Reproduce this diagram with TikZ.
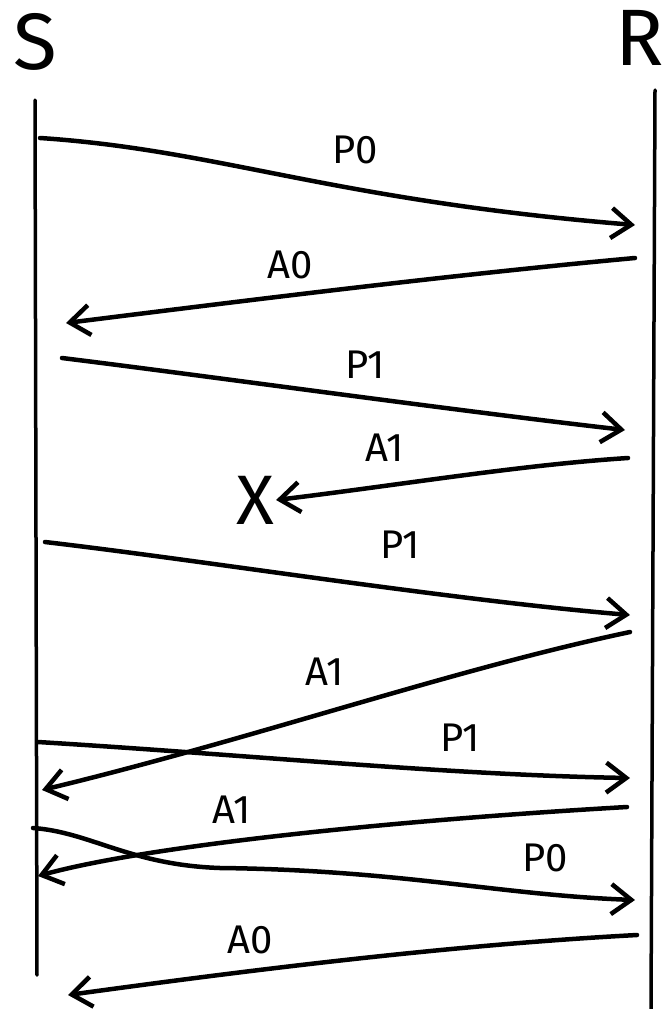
\documentclass[tikz,border=0pt]{standalone}
\usepackage{fontspec}
\setmainfont{Fira Sans}
\usetikzlibrary{arrows.meta}

\tikzset{
  lifeline/.style={line width=3.5pt, line cap=round},
  msg/.style={line width=4.5pt, line cap=round,
    -{Straight Barb[length=20pt, width=30pt, line width=4.5pt]}},
  party/.style={font=\fontsize{80}{84}\selectfont, inner sep=0pt},
  lbl/.style={font=\fontsize{40}{44}\selectfont, inner sep=0pt},
}

\begin{document}
\begin{tikzpicture}[x=1pt, y=-1pt]
  \useasboundingbox (0,0) rectangle (666,1009);

  % Sender and receiver
  \node[party] (S) at (35,42) {S};
  \node[party, anchor=east] (R) at (664,38) {R};

  % Lifelines
  \coordinate (stop) at (35,100);
  \coordinate (sbot) at (37,975);
  \coordinate (rtop) at (655,90);
  \coordinate (rbot) at (651,1009);
  \draw[lifeline] (stop) -- (sbot);
  \draw[lifeline] (rtop) -- (rbot);

  % Message ends
  \coordinate (m1a) at (40,138);   \coordinate (m1b) at (635,225);
  \coordinate (m2a) at (635,258);  \coordinate (m2b) at (66,323);
  \coordinate (m3a) at (62,358);   \coordinate (m3b) at (625,430);
  \coordinate (m4a) at (628,458);
  \coordinate (m5a) at (45,542);   \coordinate (m5b) at (630,615);
  \coordinate (m6a) at (630,632);  \coordinate (m6b) at (42,790);
  \coordinate (m7a) at (38,742);   \coordinate (m7b) at (630,778);
  \coordinate (m8a) at (627,807);  \coordinate (m8b) at (38,876);
  \coordinate (m9a) at (33,828);   \coordinate (m9b) at (635,900);
  \coordinate (m10a) at (637,935); \coordinate (m10b) at (68,995);

  % Lost acknowledgement
  \node[font=\fontsize{70}{72}\selectfont, inner sep=2pt] (lost) at (255,500) {X};

  % First exchange
  \draw[msg] (m1a) .. controls (220,150) and (330,200) .. (m1b);
  \node[lbl] (l1) at (355,150) {P0};
  \draw[msg] (m2a) .. controls (450,275) and (250,300) .. (m2b);
  \node[lbl] (l2) at (290,265) {A0};

  % Second packet, ack lost
  \draw[msg] (m3a) .. controls (200,375) and (450,410) .. (m3b);
  \node[lbl] (l3) at (365,365) {P1};
  \draw[msg] (m4a) .. controls (520,465) and (400,485) .. (lost.east);
  \node[lbl] (l4) at (385,448) {A1};

  % Retransmission
  \draw[msg] (m5a) .. controls (200,560) and (450,600) .. (m5b);
  \node[lbl] (l5) at (400,545) {P1};
  \draw[msg] (m6a) .. controls (450,670) and (250,740) .. (m6b);
  \node[lbl] (l6) at (325,672) {A1};

  % Duplicate after timeout
  \draw[msg] (m7a) .. controls (250,755) and (450,775) .. (m7b);
  \node[lbl] (l7) at (460,738) {P1};
  \draw[msg] (m8a) .. controls (400,820) and (150,845) .. (m8b);
  \node[lbl] (l8) at (232,810) {A1};

  % Next packet
  \draw[msg] (m9a) .. controls (90,832) and (130,865) .. (220,868)
             .. controls (400,870) and (500,895) .. (m9b);
  \node[lbl] (l9) at (545,858) {P0};
  \draw[msg] (m10a) .. controls (450,945) and (250,970) .. (m10b);
  \node[lbl] (l10) at (250,940) {A0};
\end{tikzpicture}
\end{document}
